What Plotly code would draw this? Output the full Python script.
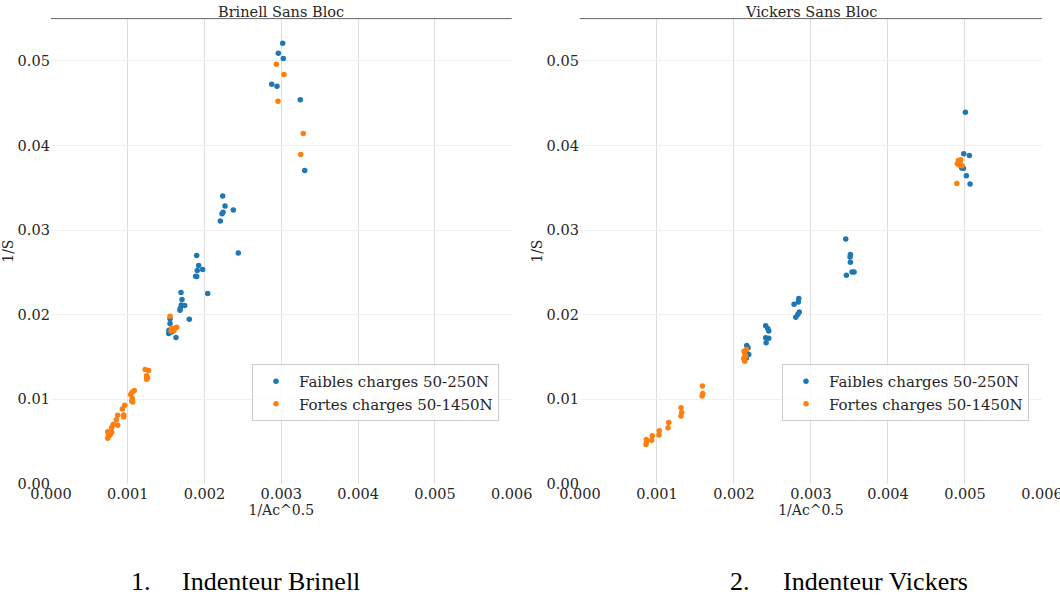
import plotly.graph_objects as go

# ---------------- data ----------------
brinell_faibles_x = [0.003018, 0.002961, 0.003026, 0.002875, 0.002944, 0.003247, 0.003305,
                     0.002237, 0.002267, 0.002375, 0.002241, 0.002228, 0.002206, 0.002440,
                     0.001898, 0.001924, 0.001906, 0.001976, 0.001885, 0.001898, 0.002042,
                     0.001694, 0.001707, 0.001698, 0.001742, 0.001685, 0.001681, 0.001802,
                     0.001551, 0.001551, 0.001538, 0.001534, 0.001573, 0.001629]
brinell_faibles_y = [0.05208, 0.05090, 0.05028, 0.04724, 0.04701, 0.04540, 0.03705,
                     0.03401, 0.03283, 0.03236, 0.03209, 0.03193, 0.03106, 0.02728,
                     0.02698, 0.02580, 0.02520, 0.02532, 0.02453, 0.02449, 0.02249,
                     0.02260, 0.02178, 0.02114, 0.02107, 0.02072, 0.02052, 0.01945,
                     0.01950, 0.01894, 0.01815, 0.01776, 0.01795, 0.01729]

brinell_fortes_x = [0.002935, 0.003035, 0.002957, 0.003286, 0.003253,
                    0.001551, 0.001573, 0.001594, 0.001616, 0.001638, 0.001564, 0.001603,
                    0.001228, 0.001272, 0.001246, 0.001246, 0.001259,
                    0.001086, 0.001060, 0.001039, 0.001060, 0.001052, 0.001065,
                    0.000961, 0.000930, 0.000948, 0.000948, 0.000870, 0.000852, 0.000870,
                    0.000813, 0.000792, 0.000770, 0.000792, 0.000740, 0.000747, 0.000740, 0.000770]
brinell_fortes_y = [0.04960, 0.04839, 0.04523, 0.04142, 0.03894,
                    0.01981, 0.01835, 0.01824, 0.01842, 0.01851, 0.01807, 0.01815,
                    0.01351, 0.01338, 0.01278, 0.01235, 0.01251,
                    0.01103, 0.01083, 0.01056, 0.01009, 0.00977, 0.00965,
                    0.00929, 0.00882, 0.00811, 0.00788, 0.00808, 0.00756, 0.00690,
                    0.00702, 0.00666, 0.00614, 0.00607, 0.00614, 0.00575, 0.00536, 0.00575]

vickers_faibles_x = [0.005005, 0.004984, 0.005057, 0.004958, 0.004979, 0.005018, 0.005066,
                     0.003452, 0.003512, 0.003508, 0.003512, 0.003534, 0.003560, 0.003460,
                     0.002842, 0.002836, 0.002781, 0.002849, 0.002829, 0.002803,
                     0.002412, 0.002439, 0.002452, 0.002412, 0.002452, 0.002418,
                     0.002166, 0.002183, 0.002175, 0.002162, 0.002192]
vickers_faibles_y = [0.04393, 0.03902, 0.03882, 0.03732, 0.03729, 0.03642, 0.03543,
                     0.02894, 0.02709, 0.02681, 0.02618, 0.02504, 0.02504, 0.02465,
                     0.02190, 0.02150, 0.02122, 0.02031, 0.02000, 0.01969,
                     0.01867, 0.01835, 0.01807, 0.01726, 0.01719, 0.01668,
                     0.01635, 0.01607, 0.01535, 0.01487, 0.01528]

vickers_fortes_x = [0.004914, 0.004945, 0.004901, 0.004936, 0.004962, 0.004923, 0.004894,
                    0.002131, 0.002144, 0.002127, 0.002140, 0.002162, 0.002153,
                    0.001590, 0.001595, 0.001586,
                    0.001313, 0.001322, 0.001313,
                    0.001153, 0.001144,
                    0.001031, 0.001027,
                    0.000940, 0.000932,
                    0.000862, 0.000858, 0.000866]
vickers_fortes_y = [0.03823, 0.03831, 0.03784, 0.03791, 0.03760, 0.03770, 0.03551,
                    0.01567, 0.01527, 0.01480, 0.01448, 0.01587, 0.01500,
                    0.01154, 0.01068, 0.01036,
                    0.00898, 0.00843, 0.00800,
                    0.00725, 0.00661,
                    0.00626, 0.00575,
                    0.00567, 0.00513,
                    0.00524, 0.00465, 0.00495]

series_names = ["Faibles charges 50-250N", "Fortes charges 50-1450N"]
subplot_titles = ["Brinell Sans Bloc", "Vickers Sans Bloc"]
captions = [("1.", "Indenteur Brinell"), ("2.", "Indenteur Vickers")]
x_ticks = [0.000, 0.001, 0.002, 0.003, 0.004, 0.005, 0.006]
y_ticks = [0.00, 0.01, 0.02, 0.03, 0.04, 0.05]

# ---------------- styling ----------------
W, H = 1060, 596
BLUE, ORANGE = "#1f77b4", "#ff7f0e"
SERIF = "DejaVu Serif"
TXT = "#262626"

fig = go.Figure()

panels = [
    (brinell_faibles_x, brinell_faibles_y, brinell_fortes_x, brinell_fortes_y, "x", "y", "legend"),
    (vickers_faibles_x, vickers_faibles_y, vickers_fortes_x, vickers_fortes_y, "x2", "y2", "legend2"),
]
for fx, fy, gx, gy, xa, ya, lg in panels:
    fig.add_trace(go.Scatter(x=fx, y=fy, mode="markers", name=series_names[0],
                             marker=dict(color=BLUE, size=5.5, line=dict(width=0)),
                             xaxis=xa, yaxis=ya, legend=lg))
    fig.add_trace(go.Scatter(x=gx, y=gy, mode="markers", name=series_names[1],
                             marker=dict(color=ORANGE, size=5.5, line=dict(width=0)),
                             xaxis=xa, yaxis=ya, legend=lg))

# pixel geometry
left_px = [(50.9, 511.7), (579.9, 1042.0)]
top_px, bot_px = 18.6, 483.7
ydom = [(H - bot_px) / H, (H - top_px) / H]

def xaxis_cfg(dom, anchor):
    return dict(domain=[dom[0] / W, dom[1] / W], range=[0, 0.006], anchor=anchor,
                tickvals=x_ticks, ticktext=[f"{v:.3f}" for v in x_ticks],
                showgrid=True, gridcolor="#dedede", gridwidth=1, zeroline=False,
                showline=False, ticks="", tickfont=dict(family=SERIF, size=14.5, color=TXT),
                ticklabeloverflow="allow",
                title=dict(text="1/Ac^0.5", font=dict(family=SERIF, size=14, color=TXT), standoff=0),
                automargin=False, fixedrange=True)

def yaxis_cfg(anchor):
    return dict(domain=ydom, range=[0, 0.055], anchor=anchor,
                tickvals=y_ticks, ticktext=[f"{v:.2f}" for v in y_ticks],
                showgrid=True, gridcolor="#f0f0f0", gridwidth=1, zeroline=False,
                showline=False, ticks="", tickfont=dict(family=SERIF, size=14.5, color=TXT),
                ticklabeloverflow="allow",
                title=dict(text="1/S", font=dict(family=SERIF, size=14, color=TXT), standoff=0),
                automargin=False, fixedrange=True)

legend_common = dict(font=dict(family=SERIF, size=15, color=TXT), bgcolor="rgba(255,255,255,0.8)",
                     bordercolor="#cccccc", borderwidth=1, xanchor="left", yanchor="top",
                     itemwidth=36, tracegroupgap=0)

fig.update_layout(
    width=W, height=H, margin=dict(l=0, r=0, t=0, b=0),
    paper_bgcolor="white", plot_bgcolor="white", showlegend=True,
    xaxis=xaxis_cfg(left_px[0], "y"), yaxis=yaxis_cfg("x"),
    xaxis2=xaxis_cfg(left_px[1], "y2"), yaxis2=yaxis_cfg("x2"),
    legend=dict(x=252 / W, y=(H - 364) / H, **legend_common),
    legend2=dict(x=782 / W, y=(H - 364) / H, **legend_common),
)

# top spine of each panel + panel titles
for i, (xr, yr) in enumerate([("x domain", "y domain"), ("x2 domain", "y2 domain")]):
    fig.add_shape(type="line", xref=xr, yref=yr, x0=0, x1=1, y0=1, y1=1,
                  line=dict(color="#666666", width=1))
    fig.add_annotation(text=subplot_titles[i], xref=xr, yref=yr, x=0.5, y=1, yanchor="bottom",
                       showarrow=False, yshift=-3, font=dict(family=SERIF, size=14.5, color=TXT))

# captions under the figure
cap_pos = [(141, 180), (740, 781)]
for (num, txt), (nx, tx) in zip(captions, cap_pos):
    fig.add_annotation(text=num, xref="paper", yref="paper", x=nx / W, y=(H - 581) / H,
                       xanchor="center", yanchor="middle", showarrow=False,
                       font=dict(family="Liberation Serif", size=26, color="black"))
    fig.add_annotation(text=txt, xref="paper", yref="paper", x=tx / W, y=(H - 581) / H,
                       xanchor="left", yanchor="middle", showarrow=False,
                       font=dict(family="Liberation Serif", size=26, color="black"))

fig.write_html("out.html",
               config={"displayModeBar": False},
               post_script="document.body.style.margin='0';document.body.style.padding='0';"
                           "document.body.style.overflow='hidden';")
